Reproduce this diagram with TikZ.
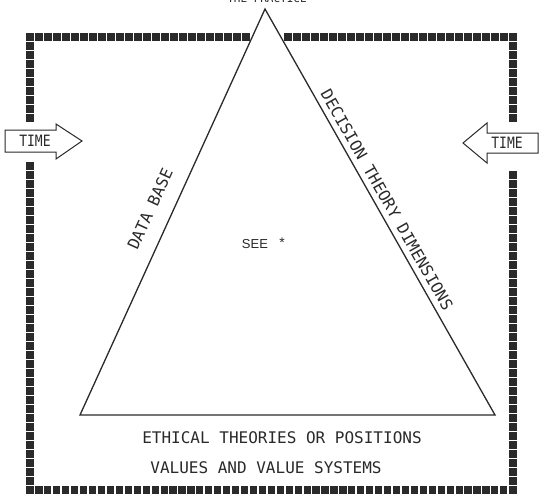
\documentclass[tikz,border=0pt]{standalone}
\usepackage{fontspec}
\newfontfamily\tw{DejaVu Sans Mono}
\setmainfont{Liberation Sans}
\definecolor{ink}{HTML}{2A2A2A}
\tikzset{
  sq/.style={fill=ink},
  tri/.style={draw=ink, line width=1.3pt, line join=miter},
  arrowbox/.style={draw=ink, line width=1pt, fill=white},
  twtext/.style={text=ink, font=\tw\fontsize{16}{18}\selectfont, inner sep=0pt},
}
\begin{document}
\begin{tikzpicture}[x=1pt,y=-1pt]
\useasboundingbox (0,0) rectangle (541,495);
\fill[white] (0,0) rectangle (541,495);
% top partially visible caption
\node[twtext, font=\tw\fontsize{11}{12}\selectfont, anchor=base] (top) at (267,3) {THE PRACTICE};
% dotted square frame
\foreach \i in {0,...,24} {\fill[sq] ({30+9*\i-3.6},{37-3.6}) rectangle ++(7.2,7.2);}
\foreach \i in {0,...,25} {\fill[sq] ({288+9*\i-3.6},{37-3.6}) rectangle ++(7.2,7.2);}
\foreach \i in {1,...,9} {\fill[sq] ({30-3.6},{37+9*\i-3.6}) rectangle ++(7.2,7.2);}
\foreach \i in {0,...,36} {\fill[sq] ({30-3.6},{166+9*\i-3.6}) rectangle ++(7.2,7.2);}
\foreach \i in {1,...,9} {\fill[sq] ({513-3.6},{37+9*\i-3.6}) rectangle ++(7.2,7.2);}
\foreach \i in {0,...,35} {\fill[sq] ({513-3.6},{175+9*\i-3.6}) rectangle ++(7.2,7.2);}
\foreach \i in {1,...,53} {\fill[sq] ({30+8.94*\i-3.6},{490-3.6}) rectangle ++(7.2,7.2);}
% triangle
\coordinate (apex) at (265,9);
\coordinate (bl) at (80,415);
\coordinate (br) at (495,415);
\draw[tri] (apex) -- (bl) -- (br) -- cycle;
% edge labels
\node[twtext, rotate=65.5] (data) at (150,209) {DATA BASE};
\node[twtext, rotate=-60.4] (dec) at (387,200) {DECISION THEORY DIMENSIONS};
% centre
\node[text=ink, font=\fontsize{13}{14}\selectfont, inner sep=0pt] (see) at (255,244) {SEE};
\node[text=ink, font=\fontsize{14}{14}\selectfont, inner sep=0pt] (star) at (282,243) {*};
% bottom lines
\node[twtext] (eth) at (282,438) {ETHICAL THEORIES OR POSITIONS};
\node[twtext] (val) at (266,468) {VALUES AND VALUE SYSTEMS};
% time arrows
\draw[arrowbox] (5,130) -- (56,130) -- (56,124) -- (82,141) -- (56,159) -- (56,152) -- (5,152) -- cycle;
\node[twtext, font=\tw\fontsize{13}{14}\selectfont, yscale=1.2] (tl) at (35,141) {TIME};
\draw[arrowbox] (538,133) -- (487,133) -- (487,123) -- (463,143) -- (487,163) -- (487,153) -- (538,153) -- cycle;
\node[twtext, font=\tw\fontsize{13}{14}\selectfont, yscale=1.2] (tr) at (507,143) {TIME};
\end{tikzpicture}
\end{document}
